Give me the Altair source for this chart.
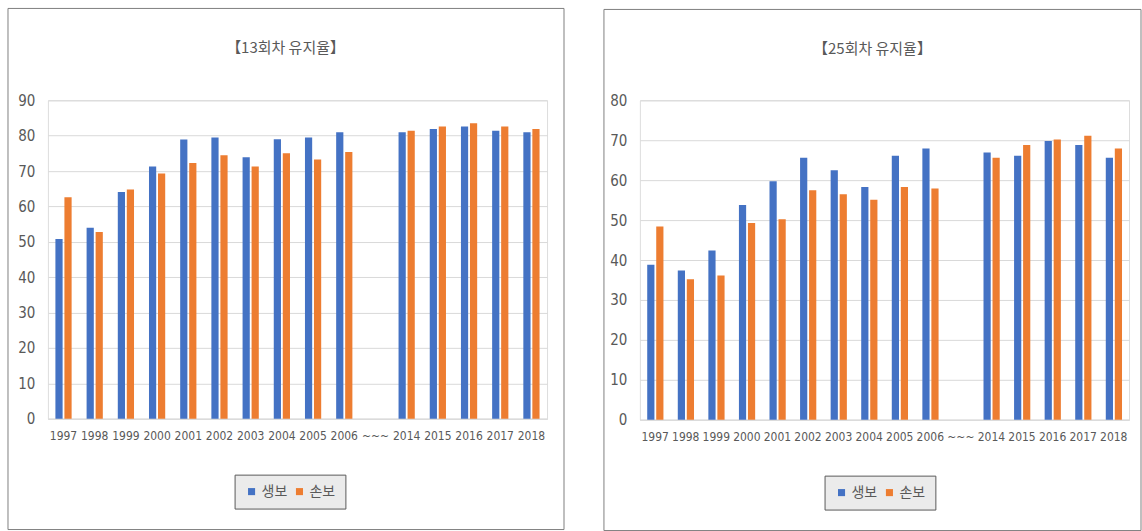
import altair as alt
import pandas as pd

categories = ["1997", "1998", "1999", "2000", "2001", "2002", "2003", "2004", "2005", "2006",
              "~~~", "2014", "2015", "2016", "2017", "2018"]
years = ["1997", "1998", "1999", "2000", "2001", "2002", "2003", "2004", "2005", "2006",
         "2014", "2015", "2016", "2017", "2018"]
series = ["생보", "손보"]
colors = ["#4472C4", "#ED7D31"]

life13 = [50.8, 54.0, 64.1, 71.3, 78.9, 79.5, 73.9, 79.0, 79.5, 81.0, 81.0, 81.9, 82.6, 81.4, 81.0]
nonlife13 = [62.6, 52.8, 64.8, 69.3, 72.3, 74.5, 71.3, 75.0, 73.3, 75.4, 81.4, 82.6, 83.5, 82.6, 81.9]
life25 = [38.8, 37.4, 42.4, 53.8, 59.7, 65.6, 62.5, 58.3, 66.1, 67.9, 66.9, 66.1, 69.8, 68.8, 65.6]
nonlife25 = [48.4, 35.2, 36.1, 49.3, 50.2, 57.5, 56.5, 55.1, 58.3, 57.9, 65.6, 68.8, 70.2, 71.1, 67.9]

GRAY = "#595959"
KFONT = "Noto Sans CJK KR"
NARROW = "DejaVu Sans Condensed, Noto Sans CJK KR, sans-serif"


def panel(title, life, nonlife, ymax, w, h, rect, leg, tpos):
    df = pd.DataFrame({
        "year": years * 2,
        "type": [series[0]] * len(years) + [series[1]] * len(years),
        "value": life + nonlife,
    })
    bars = alt.Chart(df).mark_bar().encode(
        x=alt.X("year:N",
                scale=alt.Scale(domain=categories, paddingInner=0.48, paddingOuter=0.24),
                axis=alt.Axis(title=None, labelAngle=0, ticks=False, domainColor="#d9d9d9",
                              labelFont=NARROW, labelFontSize=12, labelColor=GRAY,
                              labelPadding=12)),
        xOffset=alt.XOffset("type:N", scale=alt.Scale(domain=series, paddingInner=0.2)),
        y=alt.Y("value:Q",
                scale=alt.Scale(domain=[0, ymax], nice=False),
                axis=alt.Axis(title=None, values=list(range(0, ymax + 1, 10)), domain=False,
                              ticks=False, gridColor="#d9d9d9", labelFont=NARROW,
                              labelFontSize=15, labelColor=GRAY, labelPadding=13)),
        color=alt.Color("type:N", scale=alt.Scale(domain=series, range=colors),
                        legend=alt.Legend(title=None, orient="none", legendX=leg[0], legendY=leg[1],
                                          direction="horizontal", fillColor="#ebebeb",
                                          strokeColor=GRAY, padding=10, symbolType="square",
                                          symbolSize=50, symbolStrokeWidth=0,
                                          labelFont=KFONT, labelFontSize=14, labelColor=GRAY,
                                          columnPadding=5, labelOffset=3)),
    )
    border = alt.Chart(pd.DataFrame({"k": [0]})).mark_rect(
        filled=False, stroke="#7f7f7f", strokeWidth=1
    ).encode(x=alt.value(rect[0]), x2=alt.value(rect[1]), y=alt.value(rect[2]), y2=alt.value(rect[3]))
    ttl = alt.Chart(pd.DataFrame({"t": [title]})).mark_text(
        font=KFONT, fontSize=15, color=GRAY, baseline="middle", align="center"
    ).encode(text="t:N", x=alt.value(tpos[0]), y=alt.value(tpos[1]))
    return alt.layer(border, bars, ttl).properties(width=w, height=h)


left = panel("【13회차 유지율】", life13, nonlife13, 90, 500, 319,
             (-40, 517, -92, 430), (187, 375), (238, -52))
right = panel("【25회차 유지율】", life25, nonlife25, 80, 490, 320,
              (-36, 502, -91, 431), (185, 376), (233, -51))

chart = alt.hconcat(left, right, spacing=38).resolve_scale(
    color="independent", x="independent", y="independent"
).properties(
    padding={"left": 7, "top": 7, "right": 0, "bottom": 0}
).configure_view(strokeWidth=0).configure(background="white")

chart.save("out.html", embed_options={"renderer": "svg", "actions": False})
